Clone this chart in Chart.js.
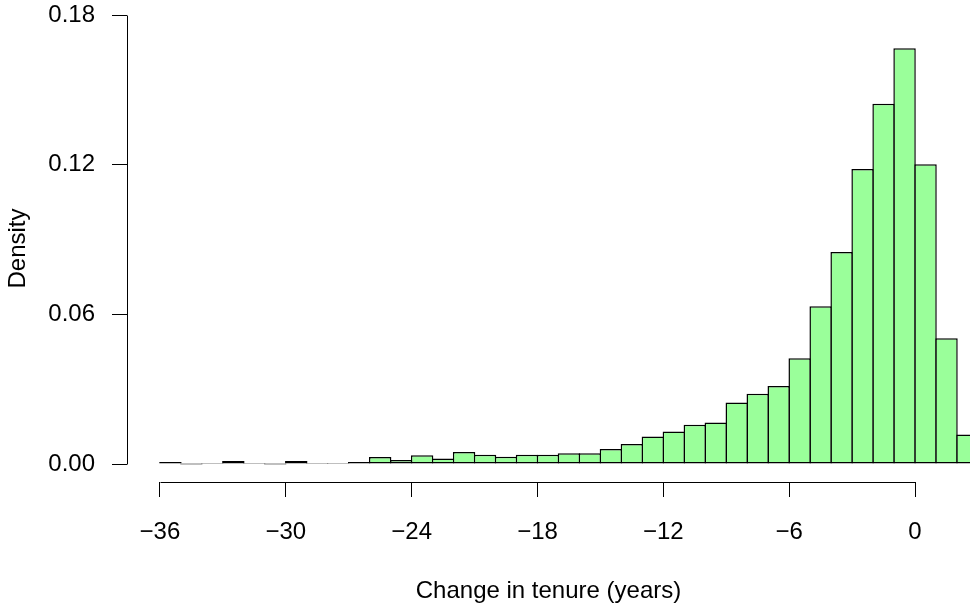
<!DOCTYPE html>
<html>
<head>
<meta charset="utf-8">
<script src="https://cdn.jsdelivr.net/npm/chart.js@4.4.1/dist/chart.umd.min.js"></script>
<style>
  html, body { margin: 0; padding: 0; background: #fff; }
  canvas { display: block; }
</style>
</head>
<body>
<canvas id="tenure-hist" width="970" height="607"></canvas>
<script>
// histogram bins (left edge of each 1-year bin) and their densities
const binLeft = [-36, -35, -34, -33, -32, -31, -30, -29, -28, -27, -26, -25, -24,
                 -23, -22, -21, -20, -19, -18, -17, -16, -15, -14, -13, -12, -11,
                 -10, -9, -8, -7, -6, -5, -4, -3, -2, -1, 0, 1, 2];
const density = [0.0008, 0, 0.0003, 0.0012, 0.0003, 0, 0.0012, 0.0003, 0.0003, 0.0008,
                 0.0028, 0.0016, 0.0035, 0.0022, 0.0048, 0.0037, 0.0029, 0.0037, 0.0037,
                 0.0043, 0.0043, 0.0060, 0.0080, 0.0110, 0.0130, 0.0157, 0.0167, 0.0247,
                 0.0282, 0.0313, 0.0424, 0.0633, 0.0850, 0.1183, 0.1444, 0.1667, 0.1202,
                 0.0504, 0.0118];
const binWidth = 1;

const xTicks = [-36, -30, -24, -18, -12, -6, 0];
const yTicks = [0, 0.06, 0.12, 0.18];

Chart.defaults.font.family = "'Liberation Sans', Arial, Helvetica, sans-serif";
Chart.defaults.font.size = 24;
Chart.defaults.color = '#000';

// R-style axis lines that only run from the first to the last tick
const axisLines = {
    id: 'axisLines',
    afterDraw(chart) {
        const { ctx, chartArea, scales: { x, y } } = chart;
        ctx.save();
        ctx.strokeStyle = '#000';
        ctx.lineWidth = 1;
        ctx.beginPath();
        const ax = Math.round(chartArea.left) + 0.5;
        ctx.moveTo(ax, Math.round(y.getPixelForValue(yTicks[0])) + 0.5);
        ctx.lineTo(ax, Math.round(y.getPixelForValue(yTicks[yTicks.length - 1])) + 0.5);
        const ay = Math.round(chartArea.bottom) + 0.5;
        ctx.moveTo(Math.round(x.getPixelForValue(xTicks[0])) + 0.5, ay);
        ctx.lineTo(Math.round(x.getPixelForValue(xTicks[xTicks.length - 1])) + 0.5, ay);
        ctx.stroke();
        ctx.restore();
    }
};

const ctx = document.getElementById('tenure-hist').getContext('2d');
new Chart(ctx, {
    type: 'bar',
    data: {
        datasets: [{
            data: binLeft.map((b, i) => ({ x: b + binWidth / 2, y: density[i] })),
            backgroundColor: '#9AFF9A',
            borderColor: '#000',
            borderWidth: 1.5,
            borderSkipped: false,
            minBarLength: 1,
            barPercentage: 1.07,
            categoryPercentage: 1,
        }],
    },
    options: {
        responsive: false,
        animation: false,
        layout: { padding: { top: 15, left: 0, right: 0, bottom: 0 } },
        plugins: { legend: { display: false }, tooltip: { enabled: false } },
        scales: {
            x: {
                type: 'linear',
                min: -37.57,
                max: 2.62,
                offset: false,
                afterBuildTicks: (scale) => { scale.ticks = xTicks.map((v) => ({ value: v })); },
                afterFit: (scale) => { scale.height = 125; },
                ticks: {
                    padding: 21,
                    callback: (v) => (v < 0 ? '\u2212' + Math.abs(v) : String(v)),
                },
                grid: {
                    offset: false,
                    drawOnChartArea: false,
                    drawTicks: true,
                    tickLength: 15,
                    color: '#000',
                    lineWidth: 1,
                },
                border: { display: false },
                title: {
                    display: true,
                    text: 'Change in tenure (years)',
                    padding: { top: 0, bottom: 1 },
                },
            },
            y: {
                min: -0.0072,
                max: 0.18,
                afterBuildTicks: (scale) => { scale.ticks = yTicks.map((v) => ({ value: v })); },
                afterFit: (scale) => {
                    scale.width = 127;
                    scale.paddingTop = 0;
                    scale.paddingBottom = 0;
                },
                ticks: {
                    padding: 17,
                    callback: (v) => v.toFixed(2),
                },
                grid: {
                    drawOnChartArea: false,
                    drawTicks: true,
                    tickLength: 15,
                    color: '#000',
                    lineWidth: 1,
                },
                border: { display: false },
                title: {
                    display: true,
                    text: 'Density',
                    padding: { top: 4, bottom: 0 },
                },
            },
        },
    },
    plugins: [axisLines],
});
</script>
</body>
</html>
